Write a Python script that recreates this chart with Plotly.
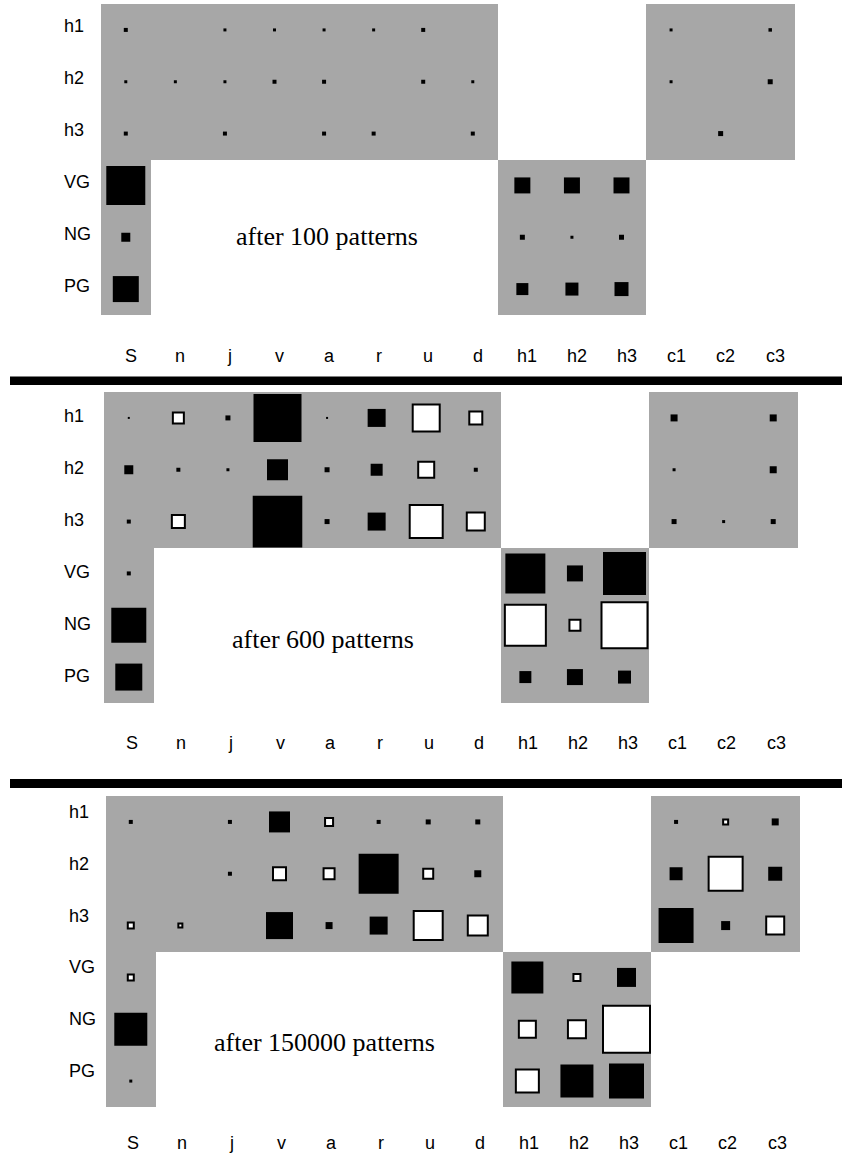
import plotly.graph_objects as go

# ---------------- data ----------------
cols = ["S", "n", "j", "v", "a", "r", "u", "d", "h1", "h2", "h3", "c1", "c2", "c3"]
rows = ["h1", "h2", "h3", "VG", "NG", "PG"]
titles = ["after 100 patterns", "after 600 patterns", "after 150000 patterns"]

# weights: negative = black square, positive = white square, 0 = no square,
# None = connection does not exist (no grey cell)
N = None
w100 = [
    [-0.08, 0, -0.06, -0.06, -0.06, -0.06, -0.08, 0, N, N, N, -0.06, 0, -0.07],
    [-0.06, -0.06, -0.06, -0.08, -0.08, 0, -0.08, -0.06, N, N, N, -0.06, 0, -0.10],
    [-0.08, 0, -0.08, 0, -0.08, -0.08, 0, -0.08, N, N, N, 0, -0.10, 0],
    [-0.78, N, N, N, N, N, N, N, -0.32, -0.32, -0.32, N, N, N],
    [-0.18, N, N, N, N, N, N, N, -0.10, -0.06, -0.10, N, N, N],
    [-0.52, N, N, N, N, N, N, N, -0.24, -0.26, -0.28, N, N, N],
]
w600 = [
    [-0.04, 0.26, -0.10, -0.96, -0.04, -0.36, 0.58, 0.30, N, N, N, -0.14, 0, -0.14],
    [-0.18, -0.08, -0.06, -0.42, -0.10, -0.24, 0.36, -0.08, N, N, N, -0.06, 0, -0.14],
    [-0.08, 0.30, 0, -1.10, -0.10, -0.36, 0.70, 0.40, N, N, N, -0.10, -0.06, -0.10],
    [-0.08, N, N, N, N, N, N, N, -0.80, -0.32, -0.86, N, N, N],
    [-0.70, N, N, N, N, N, N, N, 0.86, 0.26, 0.96, N, N, N],
    [-0.54, N, N, N, N, N, N, N, -0.24, -0.32, -0.26, N, N, N],
]
w150000 = [
    [-0.08, 0, -0.08, -0.42, 0.20, -0.08, -0.10, -0.10, N, N, N, -0.08, 0.14, -0.14],
    [0, 0, -0.08, 0.30, 0.26, -0.80, 0.24, -0.14, N, N, N, -0.26, 0.72, -0.28],
    [0.16, 0.12, 0, -0.54, -0.14, -0.36, 0.62, 0.44, N, N, N, -0.70, -0.18, 0.40],
    [0.16, N, N, N, N, N, N, N, -0.64, 0.18, -0.38, N, N, N],
    [-0.66, N, N, N, N, N, N, N, 0.38, 0.40, 0.98, N, N, N],
    [-0.06, N, N, N, N, N, N, N, 0.50, -0.66, -0.70, N, N, N],
]
panels = [w100, w600, w150000]

# ---------------- layout geometry (pixels) ----------------
W, H = 842, 1158
boxes = [(101, 795, 4, 315), (104, 798, 392, 703), (106, 800, 796, 1107)]
label_x = [62, 62, 67]
row_shift = [3.5, 1.5, 10]
col_label_y = [355.5, 743, 1142.5]
col_shift = [5, 3, 2]
title_pos = [(327, 236), (323, 639), (324, 1042)]
bars = [(376.5, 385), (779, 788)]
UNIT = 50.0  # pixels per unit weight
GREY = "#a7a7a7"

fig = go.Figure()
shapes = []
annotations = []

for p, wm in enumerate(panels):
    x0p, x1p, y0p, y1p = boxes[p]
    sfx = "" if p == 0 else str(p + 1)
    xa, ya = "x" + sfx, "y" + sfx
    cellw = (x1p - x0p) / len(cols)
    cellh = (y1p - y0p) / len(rows)

    z = [[None if v is None else 1 for v in r] for r in wm]
    fig.add_trace(go.Heatmap(
        z=z, x=list(range(len(cols))), y=list(range(len(rows))),
        colorscale=[[0, GREY], [1, GREY]], zmin=0, zmax=1,
        showscale=False, hoverinfo="skip", xaxis=xa, yaxis=ya))

    for ri, r in enumerate(wm):
        for ci, v in enumerate(r):
            if v is None or v == 0:
                continue
            s = abs(v) * UNIT
            hx = min(s, cellw) / cellw / 2
            hy = min(s, cellh) / cellh / 2
            if v < 0:
                shapes.append(dict(type="rect", xref=xa, yref=ya,
                                   x0=ci - hx, x1=ci + hx, y0=ri - hy, y1=ri + hy,
                                   fillcolor="black", line=dict(width=0), layer="above"))
            else:
                ix = 1 / cellw
                iy = 1 / cellh
                shapes.append(dict(type="rect", xref=xa, yref=ya,
                                   x0=ci - hx + ix, x1=ci + hx - ix,
                                   y0=ri - hy + iy, y1=ri + hy - iy,
                                   fillcolor="white", line=dict(width=2, color="black"),
                                   layer="above"))

    for ri, lab in enumerate(rows):
        annotations.append(dict(text=lab, xref="paper", yref=ya, x=label_x[p] / W, y=ri,
                                xanchor="left", yanchor="middle", showarrow=False,
                                yshift=row_shift[p],
                                font=dict(family="Liberation Sans, Arial", size=18, color="black")))
    for ci, lab in enumerate(cols):
        annotations.append(dict(text=lab, xref=xa, yref="paper", x=ci,
                                y=1 - col_label_y[p] / H, xshift=col_shift[p],
                                xanchor="center", yanchor="middle", showarrow=False,
                                font=dict(family="Liberation Sans, Arial", size=18, color="black")))
    tx, ty = title_pos[p]
    annotations.append(dict(text=titles[p], xref="paper", yref="paper", x=tx / W, y=1 - ty / H,
                            xanchor="center", yanchor="middle", showarrow=False,
                            font=dict(family="Liberation Serif, Times New Roman", size=26,
                                      color="black")))

    axis_common = dict(showgrid=False, zeroline=False, showticklabels=False, ticks="",
                       showline=False, fixedrange=True)
    fig.layout["xaxis" + sfx] = dict(domain=[x0p / W, x1p / W], range=[-0.5, len(cols) - 0.5],
                                     anchor=ya, **axis_common)
    fig.layout["yaxis" + sfx] = dict(domain=[1 - y1p / H, 1 - y0p / H],
                                     range=[len(rows) - 0.5, -0.5], anchor=xa, **axis_common)

for b0, b1 in bars:
    shapes.append(dict(type="rect", xref="paper", yref="paper", x0=10 / W, x1=1,
                       y0=1 - b1 / H, y1=1 - b0 / H, fillcolor="black", line=dict(width=0)))

fig.update_layout(width=W, height=H, autosize=False,
                  margin=dict(l=0, r=0, t=0, b=0, pad=0),
                  paper_bgcolor="white", plot_bgcolor="white",
                  shapes=shapes, annotations=annotations, showlegend=False)

fig.write_html("out.html", config={"displayModeBar": False})
